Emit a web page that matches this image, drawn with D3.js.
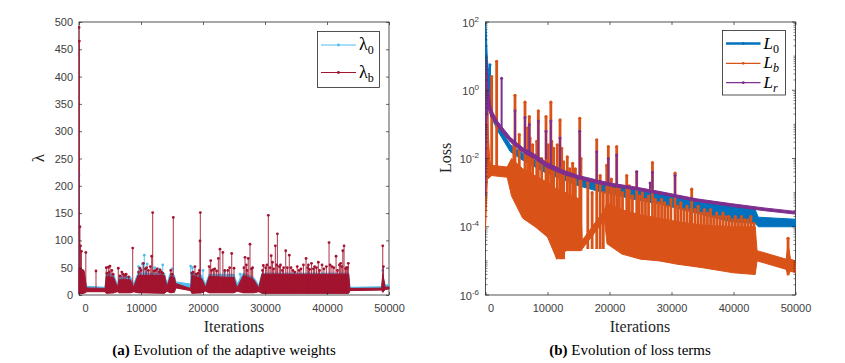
<!DOCTYPE html>
<html><head><meta charset="utf-8">
<script src="https://cdn.jsdelivr.net/npm/d3@7"></script>
<style>body{margin:0;background:#fff}</style></head>
<body>
<svg id="c" width="845" height="363"></svg>
<script>
// ---------- shared ----------
const iterTicks = [0, 10000, 20000, 30000, 40000, 50000];
// ---------- (a) adaptive weights ----------
const lamTicks = [0, 50, 100, 150, 200, 250, 300, 350, 400, 450, 500];
// dense band of both weights (iteration, low, high)
const lamIter  = [0,800,1200,4200,4400,5600,6200,6500,8300,8800,9500,13800,14200,14700,15400,15600,18000,18200,19800,20400,21000,25000,25500,26500,28200,29000,29500,43500,43700,48800,49000,49400,50000];
const lam0Lo   = [2,3,8,8,4,5,8,5,5,7,5,4,9,5,6,14,10,4,5,9,5,5,9,5,5,8,4,4,9,10,6,12,12];
const lam0Hi   = [50,45,16,14,40,38,18,34,34,20,40,40,20,40,36,24,20,42,36,20,38,38,20,40,32,18,40,40,14,15,36,18,19];
const lamBLo   = [2,3,6,6,3,4,6,4,4,6,4,3,7,4,5,13,8,3,4,7,4,4,7,4,4,6,3,3,8,9,5,10,11];
const lamBHi   = [50,45,13,12,34,32,14,28,28,14,36,36,15,34,32,21,12,36,30,14,34,32,13,36,28,13,38,38,12,12.5,38,14,15];
// spikes [iteration, value]
const lam0Spikes = [[0,220],[100,80],[9600,52],[10200,57],[10530,73],[11000,57],[12200,50],[12800,48],[13500,55],[15000,48],[18000,53],[18300,50],[20000,45],[23500,42],[26000,38],[49000,45]];
const lamBSpikes = [[0,490],[60,465],[150,125],[250,90],[400,80],[1100,78],[2740,44],[4400,50],[4500,40],[4730,51],[4900,42],[5000,53],[5300,45],[5500,38],[6340,49],[6600,35],[6900,42],[7150,38],[7400,36],[7600,38],[8000,33],[8660,86],[9600,42],[9840,49],[10000,45],[10400,58],[10700,48],[10900,50],[11200,45],[11500,52],[11720,71],[11880,151],[12100,44],[12400,45],[12600,48],[12900,42],[13100,46],[13300,42],[13500,40],[14800,45],[15000,38],[15210,142],[18200,40],[18400,42],[18700,52],[18900,38],[19200,40],[19400,45],[19520,99],[19570,151],[21000,52],[21240,63],[21400,45],[21700,47],[21900,48],[22200,44],[22480,67],[22740,84],[23200,78],[23500,45],[24000,45],[24300,50],[24630,76],[25000,49],[26600,50],[26780,69],[27000,55],[27100,45],[27300,67],[27580,93],[27800,48],[28000,50],[29600,45],[29730,54],[30100,50],[30300,55],[30540,146],[30800,50],[31000,72],[31200,60],[31400,48],[31670,90],[31900,55],[32000,112],[32300,52],[32500,55],[32800,45],[33000,50],[33340,81],[33600,50],[33920,73],[34200,50],[34500,45],[34800,42],[35200,52],[35500,45],[35800,48],[36200,55],[36620,67],[36900,50],[37000,55],[37200,47],[37500,58],[37800,48],[38000,52],[38300,50],[38600,60],[38800,45],[39200,55],[39500,48],[39900,52],[40330,96],[40500,55],[40800,52],[41100,50],[41460,71],[41700,45],[42000,55],[42200,58],[42400,52],[42550,81],[42750,90],[43000,48],[43100,50],[43300,50],[43440,58],[48990,90],[49100,52]];
// ---------- (b) loss terms (values given as log10 of the loss) ----------
const lossTickExp = [-6, -4, -2, 0, 2];
const l0Iter = [0,100,300,600,800,1100,2000,4000,6000,8000,10000,12500,15000,18000,20500,24000,28500,34000,39500,43500,44000,50000];
const l0Lo   = [1.6,0.6,-0.1,-0.1,-0.6,-0.85,-1.2,-1.8,-2.05,-2.25,-2.45,-2.62,-2.8,-2.95,-3.05,-3.2,-3.35,-3.6,-3.85,-3.9,-4.0,-4.0];
const l0Hi   = [2.0,1.8,0.9,0.4,0.2,-0.7,-1.02,-1.6,-1.85,-2.05,-2.25,-2.42,-2.58,-2.7,-2.8,-2.88,-3.0,-3.2,-3.4,-3.5,-3.72,-3.78];
const l0Spikes = [[730,0.75]];
const lbIter = [0,300,700,1000,3500,4200,6000,8000,10000,11500,13000,15300,15600,19200,19600,22000,25000,28000,31000,35000,40000,43500,43800,48500,48800,49200,50000];
const lbLo   = [-4.1,-2.6,-2.55,-2.5,-2.55,-3.1,-3.75,-4.0,-4.3,-4.95,-4.7,-4.7,-4.65,-3.8,-4.5,-4.8,-4.95,-5.0,-5.1,-5.2,-5.35,-5.4,-5.0,-5.25,-5.42,-5.3,-5.35];
const lbHi   = [-3.0,-0.8,-2.1,-2.2,-2.25,-2.0,-2.3,-2.5,-2.7,-2.9,-3.0,-3.2,-4.4,-3.5,-3.3,-3.5,-3.65,-3.75,-3.85,-3.95,-4.0,-4.0,-4.7,-4.95,-4.5,-4.95,-5.0];
const lbSpikes = [[300,0.0],[1000,0.4],[1800,0.85],[4570,-1.5],[4760,-0.15],[5450,-1.3],[6370,-0.35],[6800,-1.1],[7070,-0.77],[7180,-1.4],[7600,-1.6],[8260,-1.5],[8520,-0.6],[9060,-2.0],[9760,-0.77],[10130,-1.6],[10540,-0.35],[10680,-1.5],[11000,-1.7],[11580,-1.6],[12020,-0.87],[12290,-1.7],[12600,-2.1],[13190,-1.95],[13600,-2.3],[14060,-2.14],[14500,-2.3],[15200,-0.82],[15400,-2.0],[16500,-2.7],[17200,-3.0],[17940,-1.45],[18500,-2.5],[19000,-3.0],[19550,-2.2],[19810,-1.65],[20300,-2.6],[20700,-2.9],[21160,-1.65],[21600,-2.9],[22100,-3.0],[22780,-2.5],[23200,-2.8],[23700,-3.1],[24390,-2.39],[24800,-3.1],[25300,-3.0],[25800,-3.2],[26300,-3.1],[26930,-2.12],[27400,-3.2],[27900,-3.3],[28400,-3.2],[28900,-3.3],[29400,-3.4],[29900,-3.2],[30570,-2.43],[31000,-3.4],[31500,-3.3],[32000,-3.5],[32500,-3.4],[33000,-3.5],[33260,-2.9],[33800,-3.5],[34300,-3.4],[34800,-3.6],[35300,-3.5],[35800,-3.6],[36300,-3.5],[36800,-3.7],[37300,-3.6],[37800,-3.7],[38300,-3.6],[38800,-3.7],[39300,-3.7],[39800,-3.8],[40300,-3.7],[40800,-3.8],[41300,-3.7],[41800,-3.8],[42300,-3.8],[42800,-3.7],[43300,-3.9],[48800,-4.34]];
const lrIter = [0,150,400,900,1200,2000,4000,6000,8000,10000,12500,15000,18000,20500,24000,28500,34000,39500,45000,50000];
const lrLo   = [-3.1,-0.9,-0.5,-0.8,-0.85,-1.08,-1.52,-1.82,-2.02,-2.27,-2.46,-2.6,-2.73,-2.82,-2.91,-3.06,-3.26,-3.4,-3.53,-3.63];
const lrHi   = [-1.3,0.9,0.1,-0.5,-0.65,-0.92,-1.38,-1.68,-1.88,-2.13,-2.34,-2.5,-2.63,-2.73,-2.83,-2.98,-3.18,-3.32,-3.45,-3.55];
const lrSpikes = [[2600,0.35],[4760,-0.6],[6370,-0.8],[7070,-1.0],[8520,-0.9],[9760,-1.2],[10540,-0.9],[12020,-1.4],[15200,-1.2],[17940,-1.8],[19810,-2.0],[21160,-1.9],[24390,-2.39],[26540,-2.72],[26930,-2.4],[30570,-2.5]];

const C = {lam0:'#4DBEEE', lamB:'#A2142F', l0:'#0072BD', lb:'#D95319', lr:'#7E2F8E'};
const svg = d3.select('#c');
const axisCol = '#262626';
const tickFont = '"Liberation Sans", Arial, sans-serif';
const serif = '"Liberation Serif", "Times New Roman", serif';

// scales
const xL = d3.scaleLinear().domain([0, 50000]).range([79, 389]);
const yL = d3.scaleLinear().domain([0, 500]).range([295, 22]);
const xR = d3.scaleLinear().domain([0, 50000]).range([485.5, 795.5]);
const yR = d3.scaleLog().domain([1e-6, 1e2]).range([295, 22]);

const defs = svg.append('defs');
defs.append('clipPath').attr('id','clipL').append('rect').attr('x',78).attr('y',21).attr('width',312).attr('height',275);
defs.append('clipPath').attr('id','clipR').append('rect').attr('x',484.5).attr('y',21).attr('width',312).attr('height',275);

function frame(x0, y0, w, h){
  svg.append('rect').attr('x',x0).attr('y',y0).attr('width',w).attr('height',h)
    .attr('fill','none').attr('stroke',axisCol).attr('stroke-width',0.8);
}
frame(79, 22, 310, 273);
frame(485.5, 22, 310, 273);

function baseAt(iters, los, it){ const k = Math.max(0, d3.bisectRight(iters, it) - 1); return los[k]; }

function drawSeries(g, x, y, conv, iters, lo, hi, spikes, color, sw, r, op){
  const band = iters.map((it,i)=>({it, lo:lo[i], hi:hi[i]}));
  g.append('path').datum(band)
    .attr('d', d3.area().x(d=>x(d.it)).y0(d=>y(conv(d.lo))).y1(d=>y(conv(d.hi))))
    .attr('fill', color).attr('stroke', color).attr('stroke-width', 1);
  const sp = spikes.map(s=>({it:s[0], v:s[1], b:baseAt(iters, lo, s[0])}));
  g.selectAll(null).data(sp).enter().append('line')
    .attr('x1', d=>x(d.it)).attr('x2', d=>x(d.it))
    .attr('y1', d=>y(conv(d.b))).attr('y2', d=>y(conv(d.v)))
    .attr('stroke', color).attr('stroke-width', sw).attr('stroke-opacity', op);
  g.selectAll(null).data(sp).enter().append('circle')
    .attr('cx', d=>x(d.it)).attr('cy', d=>y(conv(d.v))).attr('r', r).attr('fill', color);
}

// ---------- left panel ----------
const gL = svg.append('g').attr('clip-path','url(#clipL)');
const lin = v=>v;
drawSeries(gL, xL, yL, lin, lamIter, lam0Lo, lam0Hi, lam0Spikes, C.lam0, 1.1, 1.4, 0.85);
drawSeries(gL, xL, yL, lin, lamIter, lamBLo, lamBHi, lamBSpikes, C.lamB, 1.1, 1.4, 0.8);

// ---------- right panel ----------
const gR = svg.append('g').attr('clip-path','url(#clipR)');
const p10 = v=>Math.pow(10, v);
drawSeries(gR, xR, yR, p10, l0Iter, l0Lo, l0Hi, l0Spikes, C.l0, 2, 1.5, 1);
drawSeries(gR, xR, yR, p10, lbIter, lbLo, lbHi, lbSpikes, C.lb, 2.8, 1.6, 1);
drawSeries(gR, xR, yR, p10, lrIter, lrLo, lrHi, lrSpikes, C.lr, 2, 1.5, 1);

// ---------- axes ----------
function styleAxis(sel){
  sel.select('.domain').remove();
  sel.selectAll('line').attr('stroke', axisCol).attr('stroke-width', 0.7);
  sel.selectAll('text').attr('fill', '#404040').style('font-family', tickFont).style('font-size', '11px');
}
let a;
a = svg.append('g').attr('transform','translate(0,295)')
  .call(d3.axisBottom(xL).tickValues(iterTicks).tickFormat(d3.format('d')).tickSizeInner(-3).tickSizeOuter(0).tickPadding(9));
styleAxis(a); a.selectAll('text').filter(d=>d===0).attr('dx', 6);
a = svg.append('g').attr('transform','translate(0,22)')
  .call(d3.axisTop(xL).tickValues(iterTicks).tickFormat('').tickSizeInner(-3).tickSizeOuter(0));
styleAxis(a);
a = svg.append('g').attr('transform','translate(79,0)')
  .call(d3.axisLeft(yL).tickValues(lamTicks).tickFormat(d3.format('d')).tickSizeInner(-3).tickSizeOuter(0).tickPadding(6));
styleAxis(a);
a = svg.append('g').attr('transform','translate(389,0)')
  .call(d3.axisRight(yL).tickValues(lamTicks).tickFormat('').tickSizeInner(-3).tickSizeOuter(0));
styleAxis(a);

a = svg.append('g').attr('transform','translate(0,295)')
  .call(d3.axisBottom(xR).tickValues(iterTicks).tickFormat(d3.format('d')).tickSizeInner(-3).tickSizeOuter(0).tickPadding(9));
styleAxis(a); a.selectAll('text').filter(d=>d===0).attr('dx', 5);
a = svg.append('g').attr('transform','translate(0,22)')
  .call(d3.axisTop(xR).tickValues(iterTicks).tickFormat('').tickSizeInner(-3).tickSizeOuter(0));
styleAxis(a);
const minor = [];
for (let e = -6; e < 2; e++) for (let k = 1; k <= 9; k++) { if (k===1 && e%2===0) continue; minor.push(k*Math.pow(10,e)); }
[485.5, 795.5].forEach((xx,i)=>{
  const dir = i===0 ? 1 : -1;
  svg.selectAll(null).data(minor).enter().append('line')
    .attr('x1', xx).attr('x2', xx + dir*2).attr('y1', d=>yR(d)).attr('y2', d=>yR(d))
    .attr('stroke', axisCol).attr('stroke-width', 0.6);
  svg.selectAll(null).data(lossTickExp).enter().append('line')
    .attr('x1', xx).attr('x2', xx + dir*3.5).attr('y1', d=>yR(Math.pow(10,d))).attr('y2', d=>yR(Math.pow(10,d)))
    .attr('stroke', axisCol).attr('stroke-width', 0.7);
});
const lt = svg.selectAll(null).data(lossTickExp).enter().append('text')
  .attr('x', 479).attr('y', d=>yR(Math.pow(10,d)) + 4.5)
  .attr('text-anchor','end').attr('fill','#404040')
  .style('font-family', tickFont).style('font-size','11px');
lt.append('tspan').text('10');
lt.append('tspan').attr('dy', -5).style('font-size','8px').text(d=>String(d));

// axis titles
svg.append('text').attr('x',234).attr('y',332).attr('text-anchor','middle')
  .style('font-family',serif).style('font-size','16px').attr('fill','#262626').text('Iterations');
svg.append('text').attr('x',640).attr('y',332).attr('text-anchor','middle')
  .style('font-family',serif).style('font-size','16px').attr('fill','#262626').text('Iterations');
svg.append('text').attr('transform','translate(44,158) rotate(-90)').attr('text-anchor','middle')
  .style('font-family',serif).style('font-size','17px').attr('fill','#262626').text('λ');
svg.append('text').attr('transform','translate(451,158) rotate(-90)').attr('text-anchor','middle')
  .style('font-family',serif).style('font-size','16px').attr('fill','#262626').text('Loss');

// captions
function caption(x, letter, rest){
  const t = svg.append('text').attr('x',x).attr('y',355).attr('text-anchor','middle')
    .style('font-family',serif).style('font-size','15px').attr('fill','#000');
  t.append('tspan').style('font-weight','bold').text('(' + letter + ')');
  t.append('tspan').text(' ' + rest);
}
caption(224, 'a', 'Evolution of the adaptive weights');
caption(630, 'b', 'Evolution of loss terms');

// legends
function legend(x0, y0, w, h, items, lineX0, lineX1, textX, fs){
  svg.append('rect').attr('x',x0).attr('y',y0).attr('width',w).attr('height',h)
    .attr('fill','#fff').attr('stroke',axisCol).attr('stroke-width',0.8);
  items.forEach(it=>{
    svg.append('line').attr('x1',lineX0).attr('x2',lineX1).attr('y1',it.y).attr('y2',it.y)
      .attr('stroke',it.color).attr('stroke-width',it.w);
    svg.append('circle').attr('cx',(lineX0+lineX1)/2).attr('cy',it.y).attr('r',1.4).attr('fill',it.color);
    const t = svg.append('text').attr('x',textX).attr('y',it.y + 5)
      .style('font-family',serif).style('font-size',fs).attr('fill','#000');
    t.append('tspan').style('font-style',it.italic?'italic':'normal').text(it.main);
    t.append('tspan').attr('dy',4).style('font-size','12px').style('font-style',it.subItalic?'italic':'normal').text(it.sub);
  });
}
legend(317.5, 31.5, 62, 56, [
  {y:45, color:C.lam0, w:1, main:'λ', sub:'0'},
  {y:72.5, color:C.lamB, w:1, main:'λ', sub:'b'}
], 321, 356, 359, '18px');
legend(722.5, 30.5, 63, 64.5, [
  {y:43.5, color:C.l0, w:2.5, main:'L', sub:'0', italic:true},
  {y:63.3, color:C.lb, w:1.2, main:'L', sub:'b', italic:true, subItalic:true},
  {y:82.7, color:C.lr, w:1.2, main:'L', sub:'r', italic:true, subItalic:true}
], 726, 760.5, 763.5, '17px');
</script>
</body></html>
